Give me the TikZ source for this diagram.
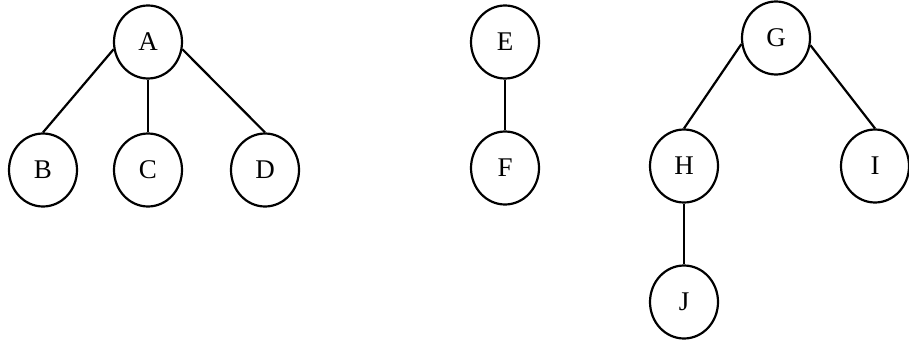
\documentclass[tikz,border=0pt]{standalone}
\usepackage{fontspec}
\setmainfont{Liberation Serif}
\usetikzlibrary{shapes.geometric}
\begin{document}
\begin{tikzpicture}[x=1pt,y=-1pt,
  tnode/.style={draw, ellipse, line width=2.2pt, minimum width=68pt, minimum height=73pt, inner sep=0pt, font=\fontsize{27}{29}\selectfont},
  edge/.style={line width=2.2pt}]
\useasboundingbox (0,0) rectangle (909,342);
\node[tnode] (A) at (148,42) {A};
\node[tnode] (B) at (43,170) {B};
\node[tnode] (C) at (148,170) {C};
\node[tnode] (D) at (265,170) {D};
\node[tnode] (E) at (505,42) {E};
\node[tnode] (F) at (505,168) {F};
\node[tnode] (G) at (776,38) {G};
\node[tnode] (H) at (684,166) {H};
\node[tnode] (I) at (875,166) {I};
\node[tnode] (J) at (684,302) {J};
\draw[edge] (A.192) -- (B.north);
\draw[edge] (A.south) -- (C.north);
\draw[edge] (A.348) -- (D.north);
\draw[edge] (E.south) -- (F.north);
\draw[edge] (G.190) -- (H.north);
\draw[edge] (G.348) -- (I.north);
\draw[edge] (H.south) -- (J.north);
\end{tikzpicture}
\end{document}
